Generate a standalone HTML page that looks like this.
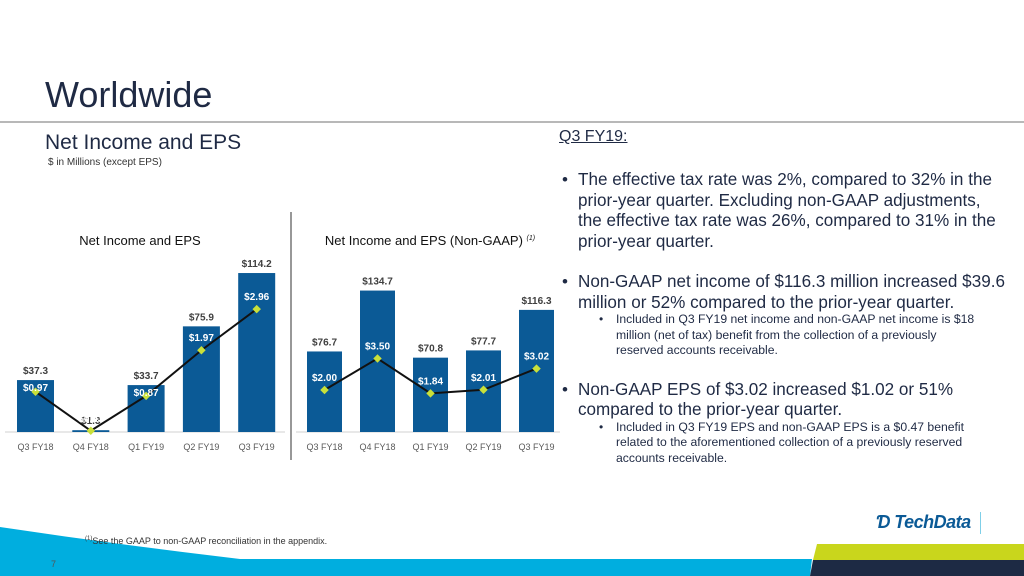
<!DOCTYPE html>
<html><head><meta charset="utf-8"><style>
body{margin:0;width:1024px;height:576px;position:relative;overflow:hidden;background:#fff;font-family:"Liberation Sans",Arial,sans-serif}
.a{position:absolute;white-space:nowrap}
.m{font-size:17.1px;color:#1f2a44;left:578px}
.s{font-size:12.2px;color:#1f2a44;left:616px}
.b{left:562px;font-size:17px;color:#1f2a44}
.sb{left:599px;font-size:12px;color:#1f2a44}
</style></head><body>
<div class="a" style="left:45px;top:74px;font-size:36px;color:#1f2a44">Worldwide</div>
<div class="a" style="left:0;top:121px;width:1024px;height:2px;background:#b8b8b8"></div>
<div class="a" style="left:45px;top:131px;font-size:21px;color:#1f2a44">Net Income and EPS</div>
<div class="a" style="left:48px;top:157px;font-size:10px;color:#333">$ in Millions (except EPS)</div>
<div class="a" style="left:559px;top:128px;font-size:16px;color:#1f2a44;text-decoration:underline">Q3 FY19:</div>

<div>
<div class="a b" style="top:170px">•</div>
<div class="a m" style="top:170px">The effective tax rate was 2%, compared to 32% in the</div>
<div class="a m" style="top:191px">prior-year quarter. Excluding non-GAAP adjustments,</div>
<div class="a m" style="top:211px">the effective tax rate was 26%, compared to 31% in the</div>
<div class="a m" style="top:232px">prior-year quarter.</div>
<div class="a b" style="top:272px">•</div>
<div class="a m" style="top:272px">Non-GAAP net income of $116.3 million increased $39.6</div>
<div class="a m" style="top:293px">million or 52% compared to the prior-year quarter.</div>
<div class="a sb" style="top:312px">•</div>
<div class="a s" style="top:312px">Included in Q3 FY19 net income and non-GAAP net income is $18</div>
<div class="a s" style="top:328px">million (net of tax) benefit from the collection of a previously</div>
<div class="a s" style="top:343px">reserved accounts receivable.</div>
<div class="a b" style="top:380px">•</div>
<div class="a m" style="top:380px">Non-GAAP EPS of $3.02 increased $1.02 or 51%</div>
<div class="a m" style="top:400px">compared to the prior-year quarter.</div>
<div class="a sb" style="top:420px">•</div>
<div class="a s" style="top:420px">Included in Q3 FY19 EPS and non-GAAP EPS is a $0.47 benefit</div>
<div class="a s" style="top:435px">related to the aforementioned collection of a previously reserved</div>
<div class="a s" style="top:451px">accounts receivable.</div>
</div>

<svg class="a" style="left:0;top:0" width="1024" height="576">
<line x1="291" y1="212" x2="291" y2="460" stroke="#777" stroke-width="1.5"/>
<g id="c1"></g>
<g id="c2"></g>
<path d="M0,527 Q120,545 240,559 L812,559 L810,576 L0,576 Z" fill="#00aedf"/>
<path d="M817,544 L1024,544 L1024,560 L813,560 Z" fill="#c9d61c"/>
<path d="M813,560 L1024,560 L1024,576 L810,576 Z" fill="#1d2a44"/>
</svg>
<div class="a" style="left:85px;top:536px;font-size:9px;color:#333"><sup style="font-size:6px">(1)</sup>See the GAAP to non-GAAP reconciliation in the appendix.</div>
<div class="a" style="left:51px;top:559px;font-size:9px;color:#555">7</div>
<div class="a" style="left:876px;top:512px;width:104px;height:22px;border-right:1px solid #7fcfe8;">
<span style="font-size:18px;font-weight:bold;font-style:italic;color:#0b5a96;letter-spacing:-0.5px">Ɗ TechData</span></div>

<script>
const cats=["Q3 FY18","Q4 FY18","Q1 FY19","Q2 FY19","Q3 FY19"];
const ni1=[37.3,1.3,33.7,75.9,114.2];
const eps1=[0.97,0.03,0.87,1.97,2.96];
const ni1Labels=["$37.3","$1.3","$33.7","$75.9","$114.2"];
const eps1Labels=["$0.97","$0.03","$0.87","$1.97","$2.96"];
const ni2=[76.7,134.7,70.8,77.7,116.3];
const eps2=[2.00,3.50,1.84,2.01,3.02];
const ni2Labels=["$76.7","$134.7","$70.8","$77.7","$116.3"];
const eps2Labels=["$2.00","$3.50","$1.84","$2.01","$3.02"];
const NS="http://www.w3.org/2000/svg";
function mk(g,t,a,txt){const e=document.createElementNS(NS,t);for(const k in a)e.setAttribute(k,a[k]);if(txt!==undefined)e.textContent=txt;g.appendChild(e);return e;}
function chart(id,title,sup,x0,step,bw,base,niScale,epsScale,ni,eps,nl,el,axL,axR,tx){
 const g=document.getElementById(id);
 const xs=i=>x0+i*step;
 const yN=v=>base-v*niScale;
 const yE=v=>base-v*epsScale;
 let t=mk(g,"text",{x:tx,y:245,"text-anchor":"middle","font-size":13,fill:"#111","font-family":"Liberation Sans, sans-serif"},title);
 
 
 if(sup){mk(t,"tspan",{"font-size":7,"font-style":"italic",dy:-5},sup);}
 const ax=mk(g,"line",{x1:axL,x2:axR,y1:base,y2:base,stroke:"#d0d0d0"});
 
 
 cats.forEach((c,i)=>{
  const r=mk(g,"rect",{x:xs(i),y:yN(ni[i]),width:bw,height:base-yN(ni[i]),fill:"#0b5a96"});
  
  
  const l=mk(g,"text",{x:xs(i)+bw/2,y:yN(ni[i])-6,"text-anchor":"middle","font-size":10,"font-weight":"bold",fill:"#404040"},nl[i]);
  
  
  const cl=mk(g,"text",{x:xs(i)+bw/2,y:450,"text-anchor":"middle","font-size":9,fill:"#595959"},c);
  
  
 });
 const pts=eps.map((v,i)=>(xs(i)+bw/2)+","+yE(v)).join(" ");
 const pl=mk(g,"polyline",{points:pts,fill:"none",stroke:"#111","stroke-width":2});
 
 
 eps.forEach((v,i)=>{
  const cx=xs(i)+bw/2,cy=yE(v);
  const d=mk(g,"rect",{x:cx-3,y:cy-3,width:6,height:6,fill:"#c9e03a",transform:`rotate(45 ${cx} ${cy})`});
  
  
  let ly=Math.max(cy-9,yN(ni[i])+11);
  if(ly>base-2) ly=cy-9;
  const l=mk(g,"text",{x:cx,y:ly,"text-anchor":"middle","font-size":10,"font-weight":"bold",fill:"#fff"},el[i]);
  
  
 });
}
chart("c1","Net Income and EPS","",17,55.3,37,432,1.392,41.5,ni1,eps1,ni1Labels,eps1Labels,5,285,140);
chart("c2","Net Income and EPS (Non-GAAP) ","(1)",307,53,35,432,1.05,21,ni2,eps2,ni2Labels,eps2Labels,296,560,430);
</script>
</body></html>
